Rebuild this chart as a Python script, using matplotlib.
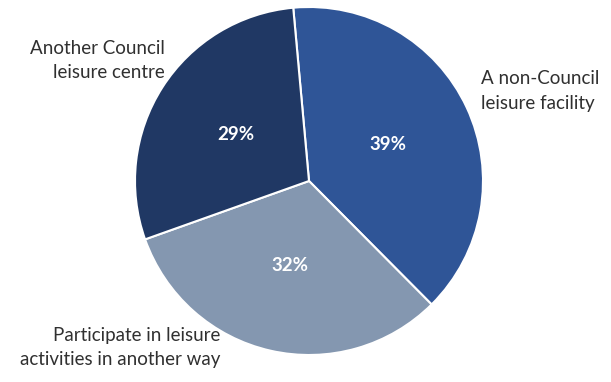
import numpy as np
import matplotlib.pyplot as plt

labels = ["A non-Council\nleisure facility",
          "Participate in leisure\nactivities in another way",
          "Another Council\nleisure centre"]
values = [39, 32, 29]
colors = ["#2F5597", "#8497B0", "#203864"]

plt.rcParams['font.family'] = ['Lato', 'DejaVu Sans']

fig = plt.figure(figsize=(6.11, 3.82), dpi=100)
ax = fig.add_axes([0, 0, 1, 1])

start = 95.2
cx, cy, r = 309, 201, 174
wedges, texts = ax.pie(values, colors=colors, startangle=start, counterclock=False,
                       center=(cx, cy), radius=r, frame=True,
                       wedgeprops=dict(edgecolor="white", linewidth=1.5))
ax.set_xlim(0, 611)
ax.set_ylim(0, 382)
ax.axis("off")

# percentage labels inside each slice
ang = start
for v in values:
    mid = np.deg2rad(ang - v * 3.6 / 2)
    ang -= v * 3.6
    ax.text(cx + 0.5 * r * np.cos(mid), cy + 0.5 * r * np.sin(mid), f"{v}%",
            ha="center", va="center", color="white", fontsize=13.5, fontweight="bold")

# category labels outside
kw = dict(va="center", fontsize=13.5, color="#303030", linespacing=1.5)
ax.text(481, 291, labels[0], ha="left", **kw)
ax.text(220, 34, labels[1], ha="right", **kw)
ax.text(165, 321, labels[2], ha="right", **kw)

fig.savefig("out.png", dpi=100)
